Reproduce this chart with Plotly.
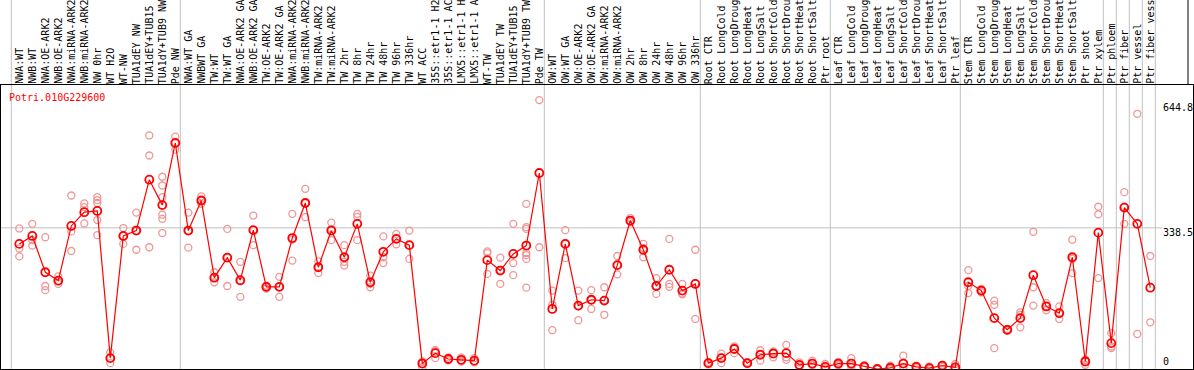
import plotly.graph_objects as go

labels = [
    "NWA:WT", "NWB:WT", "NWA:OE-ARK2", "NWB:OE-ARK2", "NWA:miRNA-ARK2", "NWB:miRNA-ARK2",
    "NW 0hr", "WT H2O", "WT-NW", "TUA1dEY NW", "TUA1dEY+TUB15", "TUA1dY+TUB9 NW", "Pde NW",
    "NWA:WT GA", "NWBWT GA", "TW:WT", "TW:WT GA", "NWA:OE-ARK2 GA", "NWB:OE-ARK2 GA",
    "TW:OE-ARK2", "TW:OE-ARK2 GA", "NWA:miRNA-ARK2", "NWB:miRNA-ARK2", "TW:miRNA-ARK2",
    "TW:miRNA-ARK2", "TW 2hr", "TW 8hr", "TW 24hr", "TW 48hr", "TW 96hr", "TW 336hr",
    "WT ACC", "35S::etr1-1 H2", "35S::etr1-1 AC", "LMX5::etr1-1 H", "LMX5::etr1-1 A",
    "WT-TW", "TUA1dEY TW", "TUA1dEY+TUB15", "TUA1dY+TUB9 TW", "Pde TW",
    "OW:WT", "OW:WT GA", "OW:OE-ARK2", "OW:OE-ARK2 GA", "OW:miRNA-ARK2", "OW:miRNA-ARK2",
    "OW 2hr", "OW 8hr", "OW 24hr", "OW 48hr", "OW 96hr", "OW 336hr",
    "Root CTR", "Root LongCold", "Root LongDroug", "Root LongHeat", "Root LongSalt",
    "Root ShortCold", "Root ShortDrou", "Root ShortHeat", "Root ShortSalt", "Ptr root",
    "Leaf CTR", "Leaf LongCold", "Leaf LongDroug", "Leaf LongHeat", "Leaf LongSalt",
    "Leaf ShortCold", "Leaf ShortDrou", "Leaf ShortHeat", "Leaf ShortSalt", "Ptr leaf",
    "Stem CTR", "Stem LongCold", "Stem LongDroug", "Stem LongHeat", "Stem LongSalt",
    "Stem ShortCold", "Stem ShortDrou", "Stem ShortHeat", "Stem ShortSalt", "Ptr shoot",
    "Ptr xylem", "Ptr phloem", "Ptr fiber", "Ptr vessel", "Ptr fiber vess",
]

means = [
    300, 319, 232, 212, 343, 376, 379, 26, 319, 332, 454, 393, 542,
    332, 404, 219, 267, 213, 333, 197, 197, 314, 398, 244, 332, 268, 348, 208, 281, 312, 297,
    13, 38, 24, 22, 20, 261, 236, 276, 296, 470,
    144, 300, 152, 166, 164, 249, 356, 286, 199, 238, 188, 204,
    14, 26, 48, 14, 34, 37, 38, 10, 13, 5,
    13, 13, 6, 0, 3, 13, 5, 2, 8, 4,
    208, 188, 122, 94, 122, 225, 150, 134, 268, 18,
    327, 62, 387, 348, 195,
]

replicates = [
    [337, 289, 270], [348, 309, 296], [316, 199, 189], [222, 210, 204], [416, 330, 283],
    [397, 388, 349], [412, 405, 398, 357, 321], [40, 26, 14], [338, 319, 300], [375, 332, 286],
    [560, 512, 292], [461, 440, 412, 370, 360, 326], [557, 542, 526],
    [375, 332, 291], [414, 404, 396], [232, 219, 208], [336, 267, 199], [257, 210, 173],
    [368, 333, 297], [200, 197, 193], [221, 197, 173], [372, 310, 260], [432, 398, 364],
    [258, 244, 230], [351, 336, 309], [297, 257, 248], [372, 365, 309], [224, 204, 196],
    [318, 268, 254], [324, 312, 299], [332, 297, 264],
    [18, 17, 4], [46, 42, 26], [28, 24, 21], [28, 20, 18], [26, 18, 16],
    [282, 278, 228], [267, 237, 204], [348, 254, 225], [396, 340, 336, 278, 273, 264, 195],
    [644.8, 292],
    [188, 154, 93], [333, 300, 266], [188, 150, 117], [189, 165, 144], [196, 165, 130],
    [271, 249, 227], [362, 355, 352], [300, 290, 268], [218, 199, 180], [312, 204, 197],
    [204, 181, 179], [286, 206, 120],
    [17, 14, 11], [37, 27, 14], [54, 52, 38], [16, 14, 12], [45, 37, 20], [42, 41, 28],
    [58, 28, 22], [16, 8, 6], [20, 10, 9], [12, 2, 1],
    [17, 13, 9], [26, 9, 4], [8, 6, 4], [1, 0, 0], [8, 1, 0], [32, 5, 2], [8, 4, 2],
    [6, 1, 0], [10, 8, 6], [12, 1, 0],
    [237, 199, 182], [192, 188, 184], [164, 154, 50], [96, 94, 92], [136, 130, 100],
    [329, 196, 152], [158, 151, 141], [150, 132, 120], [310, 264, 230], [22, 22, 10],
    [389, 371, 218], [86, 54, 50], [424, 389, 348], [612, 84], [271, 112],
]

group_ends = [-1, 12, 40, 52, 62, 72, 83, 84, 85, 86, 87]
tick_values = [644.8, 338.5, 0]
tick_texts = ["644.8", "338.5", "0"]
title_text = "Potri.010G229600"

W, H = 1194, 370
ML, MR, MT, MB = 1, 1, 85, 1
plot_h = H - MT - MB
plot_w = W - ML - MR
step = 13.0
x0_pix = 19.3
xr = [(ML - x0_pix) / step, (ML + plot_w - x0_pix) / step]
yr = [0, 681]

FONT = "DejaVu Sans Mono"
GRAY = "#C0C0C0"

idx = list(range(len(labels)))
rx, ry = [], []
for i, reps in enumerate(replicates):
    for v in reps:
        rx.append(i)
        ry.append(v)

fig = go.Figure()
fig.add_trace(go.Scatter(
    x=rx, y=ry, mode="markers", hoverinfo="skip", showlegend=False,
    marker=dict(symbol="circle-open", size=7, color="#F09696", line=dict(width=1.3)),
))
fig.add_trace(go.Scatter(
    x=idx, y=means, mode="lines+markers", showlegend=False,
    line=dict(color="#FF0000", width=1.2),
    marker=dict(symbol="circle-open", size=8, color="#FF0000", line=dict(width=1.8)),
))

shapes = []
top_paper = (H - MB) / plot_h + 0.02
for g in group_ends:
    shapes.append(dict(type="line", xref="x", yref="paper", x0=g + 0.385, x1=g + 0.385,
                       y0=0, y1=top_paper, line=dict(color=GRAY, width=1), layer="below"))
shapes.append(dict(type="line", xref="paper", yref="y", x0=0, x1=(1162 - ML) / plot_w,
                   y0=338.5, y1=338.5, line=dict(color=GRAY, width=1), layer="below"))
shapes.append(dict(type="line", xref="paper", yref="paper", x0=(1188 - ML) / plot_w,
                   x1=(1188 - ML) / plot_w, y0=1, y1=top_paper, line=dict(color="black", width=1)))

annotations = []
lab_y = (H - MB - 84) / plot_h
for i, lab in enumerate(labels):
    annotations.append(dict(text=lab, x=i, xref="x", xshift=0.5, y=lab_y, yref="paper",
                            xanchor="center", yanchor="bottom", textangle=-90, showarrow=False,
                            borderpad=0, borderwidth=0,
                            font=dict(family=FONT, size=10, color="black")))

shifts = [-7.7, -4.4, 7.3]
for v, t, s in zip(tick_values, tick_texts, shifts):
    annotations.append(dict(text=t, x=(1163 - ML) / plot_w, xref="paper", y=v, yref="y",
                            yshift=s, xanchor="left", yanchor="middle", showarrow=False,
                            borderpad=0, borderwidth=0,
                            font=dict(family=FONT, size=10, color="black")))

annotations.append(dict(text=title_text, x=(9.3 - ML) / plot_w, xref="paper",
                        y=(H - MB - 97.2) / plot_h, yref="paper", xanchor="left", yanchor="middle",
                        showarrow=False, borderpad=0, borderwidth=0,
                        font=dict(family=FONT, size=10, color="#FF0000")))

fig.update_layout(
    width=W, height=H, margin=dict(l=ML, r=MR, t=MT, b=MB),
    paper_bgcolor="white", plot_bgcolor="white",
    shapes=shapes, annotations=annotations, showlegend=False,
    xaxis=dict(range=xr, showgrid=False, zeroline=False, showticklabels=False, ticks="",
               showline=True, mirror=True, linecolor="black", linewidth=1),
    yaxis=dict(range=yr, showgrid=False, zeroline=False, showticklabels=False, ticks="",
               showline=True, mirror=True, linecolor="black", linewidth=1),
)

fig.write_html(
    "out.html",
    config={"displayModeBar": False},
    post_script="document.body.style.margin='0';document.body.style.overflow='hidden';",
)
